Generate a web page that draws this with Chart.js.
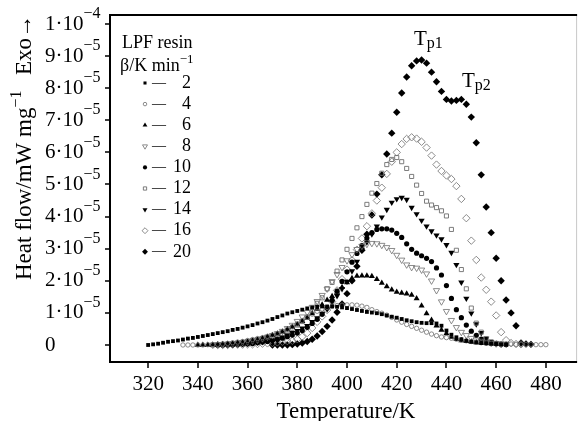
<!DOCTYPE html>
<html>
<head>
<meta charset="utf-8">
<script src="https://cdn.jsdelivr.net/npm/chart.js@4"></script>
<style>
  body { margin: 0; background: #fff; }
  #wrap { width: 582px; height: 421px; }
</style>
</head>
<body>
<div id="wrap"><canvas id="dscChart" width="582" height="421"></canvas></div>
<script>
// temperature grid (K), every series is sampled on it
const temps = [320, 322, 324, 326, 328, 330, 332, 334, 336, 338,
    340, 342, 344, 346, 348, 350, 352, 354, 356, 358,
    360, 362, 364, 366, 368, 370, 372, 374, 376, 378,
    380, 382, 384, 386, 388, 390, 392, 394, 396, 398,
    400, 402, 404, 406, 408, 410, 412, 414, 416, 418,
    420, 422, 424, 426, 428, 430, 432, 434, 436, 438,
    440, 442, 444, 446, 448, 450, 452, 454, 456, 458,
    460, 462, 464, 466, 468, 470, 472, 474, 476, 478, 480];

// heat flow in units of 1e-5 mW/mg, first value at the given start temperature
const b2Start = 320;
const b2 = [0.00, 0.02, 0.04, 0.07, 0.10, 0.12, 0.14, 0.17, 0.20, 0.22,
    0.25, 0.28, 0.31, 0.34, 0.37, 0.40, 0.43, 0.47, 0.50, 0.54,
    0.58, 0.62, 0.67, 0.71, 0.76, 0.81, 0.87, 0.92, 0.98, 1.02,
    1.06, 1.10, 1.14, 1.17, 1.19, 1.20, 1.20, 1.20, 1.19, 1.17,
    1.15, 1.12, 1.09, 1.06, 1.03, 1.01, 0.99, 0.96, 0.92, 0.88,
    0.85, 0.81, 0.77, 0.74, 0.71, 0.69, 0.68, 0.68, 0.67, 0.60,
    0.45, 0.32, 0.24, 0.18, 0.13, 0.10, 0.08, 0.06, 0.05, 0.04,
    0.03, 0.02, 0.01];

const b4Start = 334;
const b4 = [0.00, 0.00, 0.00, 0.00, 0.00, 0.01, 0.01, 0.02,
    0.03, 0.05, 0.07, 0.09, 0.11,
    0.14, 0.17, 0.20, 0.23, 0.27, 0.31, 0.36, 0.42, 0.49, 0.57,
    0.66, 0.76, 0.86, 0.96, 1.05, 1.12, 1.17, 1.21, 1.23, 1.24,
    1.25, 1.25, 1.24, 1.21, 1.17, 1.10, 1.04, 0.99, 0.93, 0.86,
    0.78, 0.71, 0.64, 0.58, 0.52, 0.46, 0.40, 0.34, 0.29, 0.25,
    0.23, 0.21, 0.18, 0.15, 0.13, 0.11, 0.09, 0.07, 0.06, 0.05,
    0.04, 0.04, 0.03, 0.03, 0.02, 0.02, 0.02, 0.02, 0.01, 0.01, 0.01];

const b6Start = 340;
const b6 = [0.00, 0.00, 0.00, 0.01, 0.01,
    0.02, 0.03, 0.04, 0.06, 0.08,
    0.10, 0.13, 0.16, 0.20, 0.25, 0.30, 0.35, 0.41, 0.48, 0.56,
    0.64, 0.74, 0.85, 0.98, 1.12, 1.25, 1.40, 1.52, 1.65, 1.80,
    1.95, 2.08, 2.15, 2.16, 2.16, 2.14, 2.05, 1.93, 1.82, 1.72,
    1.65, 1.62, 1.60, 1.56, 1.45, 1.22, 0.98, 0.78, 0.60, 0.47,
    0.36, 0.25, 0.18, 0.14, 0.12, 0.10, 0.08, 0.07, 0.06, 0.05, 0.04];

const b8Start = 346;
const b8 = [0.00, 0.01, 0.02, 0.03, 0.04, 0.06, 0.08,
    0.10, 0.13, 0.16, 0.20, 0.25, 0.30, 0.36, 0.43, 0.52, 0.62,
    0.74, 0.88, 1.02, 1.18, 1.36, 1.55, 1.75, 1.98, 2.20, 2.42,
    2.63, 2.82, 2.98, 3.08, 3.14, 3.17, 3.16, 3.11, 3.04, 2.95,
    2.80, 2.65, 2.50, 2.42, 2.40, 2.34, 2.22, 2.00, 1.70, 1.35,
    1.05, 0.77, 0.55, 0.40, 0.30, 0.21, 0.16, 0.12, 0.09, 0.06, 0.04, 0.02];

const b10Start = 348;
const b10 = [0.00, 0.00, 0.01, 0.01, 0.02, 0.03,
    0.04, 0.05, 0.07, 0.09, 0.11, 0.14, 0.17, 0.21, 0.26, 0.31,
    0.37, 0.45, 0.55, 0.67, 0.80, 0.96, 1.15, 1.40, 1.68, 1.98,
    2.28, 2.58, 2.85, 3.10, 3.33, 3.50, 3.60, 3.62, 3.62, 3.58,
    3.48, 3.35, 3.15, 2.98, 2.86, 2.78, 2.70, 2.60, 2.40, 2.18,
    1.85, 1.45, 1.10, 0.85, 0.62, 0.43, 0.30, 0.18, 0.10, 0.06, 0.04, 0.03, 0.02];

const b12Start = 346;
const b12 = [0.00, 0.01, 0.02, 0.03, 0.04, 0.06, 0.08,
    0.11, 0.14, 0.17, 0.20, 0.23, 0.27, 0.31, 0.36, 0.44, 0.52,
    0.62, 0.73, 0.87, 1.05, 1.30, 1.47, 1.75, 1.95, 2.30, 2.65,
    2.98, 3.32, 3.65, 4.00, 4.38, 4.73, 5.03, 5.35, 5.62, 5.78,
    5.84, 5.71, 5.50, 5.25, 4.98, 4.72, 4.48, 4.36, 4.28, 4.18,
    4.02, 3.60, 2.95, 2.35, 1.75, 1.15, 0.68, 0.40, 0.20, 0.10, 0.05, 0.03, 0.02];

const b14Start = 350;
const b14 = [0.00, 0.00, 0.01, 0.02, 0.03,
    0.04, 0.06, 0.08, 0.10, 0.13, 0.16, 0.20, 0.25, 0.31, 0.38,
    0.44, 0.52, 0.60, 0.72, 0.84, 0.98, 1.12, 1.34, 1.53, 1.75,
    1.98, 2.30, 2.60, 2.97, 3.20, 3.45, 3.70, 3.98, 4.22, 4.44,
    4.55, 4.59, 4.53, 4.28, 4.08, 3.88, 3.70, 3.55, 3.42, 3.30,
    3.12, 2.88, 2.50, 1.95, 1.45, 0.99, 0.65, 0.38, 0.20, 0.10, 0.05, 0.03, 0.02];

const b16Start = 348;
const b16 = [0.00, 0.00, 0.00, 0.01, 0.01, 0.01,
    0.02, 0.02, 0.03, 0.04, 0.05, 0.06, 0.08, 0.10, 0.12, 0.13,
    0.18, 0.26, 0.37, 0.53, 0.72, 0.89, 1.09, 1.35, 1.70, 2.05,
    2.35, 2.64, 2.97, 3.32, 3.70, 4.10, 4.50, 4.90, 5.33, 5.71,
    6.00, 6.26, 6.42, 6.47, 6.43, 6.33, 6.15, 5.90, 5.62, 5.42,
    5.28, 5.17, 4.95, 4.55, 3.95, 3.25, 2.65, 2.10, 1.72, 1.35,
    0.92, 0.40, 0.15, 0.06, 0.03, 0.02];

const b20Start = 370;
const b20 = [0.00, 0.00, 0.00, 0.00, 0.01,
    0.03, 0.06, 0.11, 0.18, 0.28, 0.42, 0.58, 0.78, 1.02, 1.28,
    1.60, 2.00, 2.45, 2.95, 3.45, 4.05, 4.70, 5.30, 5.95, 6.60,
    7.25, 7.85, 8.35, 8.70, 8.85, 8.88, 8.78, 8.50, 8.20, 7.90,
    7.65, 7.60, 7.62, 7.65, 7.50, 7.10, 6.30, 5.30, 4.30, 3.50,
    2.70, 2.00, 1.40, 1.00, 0.60, 0.06, 0.03, 0.02];

const rateLabels = ["2", "4", "6", "8", "10", "12", "14", "16", "20"];
const yTicks = [0, 1, 2, 3, 4, 5, 6, 7, 8, 9, 10];
const xTicks = [320, 340, 360, 380, 400, 420, 440, 460, 480];

const SERIF = '"Liberation Serif", "DejaVu Serif", serif';
const GREY = "#6e6e6e";

function toPoints(start, values) {
    const first = temps.indexOf(start);
    return values.map((v, i) => ({ x: temps[first + i], y: v }));
}

const styles = [
    { pointStyle: "rect", rotation: 0, radius: 2.7, fill: "#000", stroke: "#000", borderWidth: 0 },
    { pointStyle: "circle", rotation: 0, radius: 2.2, fill: "rgba(0,0,0,0)", stroke: GREY, borderWidth: 0.8 },
    { pointStyle: "triangle", rotation: 0, radius: 3.5, fill: "#000", stroke: "#000", borderWidth: 0 },
    { pointStyle: "triangle", rotation: 180, radius: 3.6, fill: "rgba(0,0,0,0)", stroke: GREY, borderWidth: 0.8 },
    { pointStyle: "circle", rotation: 0, radius: 2.6, fill: "#000", stroke: "#000", borderWidth: 0 },
    { pointStyle: "rect", rotation: 0, radius: 2.9, fill: "rgba(0,0,0,0)", stroke: GREY, borderWidth: 0.9 },
    { pointStyle: "triangle", rotation: 180, radius: 3.6, fill: "#000", stroke: "#000", borderWidth: 0 },
    { pointStyle: "rectRot", rotation: 0, radius: 3.7, fill: "rgba(0,0,0,0)", stroke: GREY, borderWidth: 0.8 },
    { pointStyle: "rectRot", rotation: 0, radius: 3.7, fill: "#000", stroke: "#000", borderWidth: 0 }
];

const seriesData = [
    toPoints(b2Start, b2), toPoints(b4Start, b4), toPoints(b6Start, b6),
    toPoints(b8Start, b8), toPoints(b10Start, b10), toPoints(b12Start, b12),
    toPoints(b14Start, b14), toPoints(b16Start, b16), toPoints(b20Start, b20)
];

const datasets = seriesData.map((pts, i) => ({
    label: rateLabels[i],
    data: pts,
    showLine: false,
    pointStyle: styles[i].pointStyle,
    rotation: styles[i].rotation,
    pointRadius: styles[i].radius,
    pointBackgroundColor: styles[i].fill,
    pointBorderColor: styles[i].stroke,
    pointBorderWidth: styles[i].borderWidth
}));

// text with a raised (sup) or lowered (sub) part
function drawPow(ctx, x, y, base, exp, baseSize, expSize, shift) {
    ctx.font = baseSize + "px " + SERIF;
    ctx.fillText(base, x, y);
    const w = ctx.measureText(base).width;
    ctx.font = expSize + "px " + SERIF;
    ctx.fillText(exp, x + w, y + shift);
    return w + ctx.measureText(exp).width;
}

const decorPlugin = {
    id: "decor",
    afterDraw(chart) {
        const ctx = chart.ctx;
        const area = chart.chartArea;
        const xs = chart.scales.x;
        const ys = chart.scales.y;
        ctx.save();

        // frame
        ctx.strokeStyle = "#c8c8c8";
        ctx.lineWidth = 1;
        ctx.beginPath();
        ctx.moveTo(area.right - 0.5, area.top);
        ctx.lineTo(area.right - 0.5, area.bottom);
        ctx.stroke();
        ctx.strokeStyle = "#000";
        ctx.lineWidth = 2;
        ctx.beginPath();
        ctx.moveTo(area.right, area.top);
        ctx.lineTo(area.left, area.top);
        ctx.lineTo(area.left, area.bottom);
        ctx.lineTo(area.right, area.bottom);
        ctx.stroke();

        // ticks
        ctx.lineWidth = 1.5;
        ctx.beginPath();
        xTicks.forEach(t => {
            const px = Math.round(xs.getPixelForValue(t));
            ctx.moveTo(px, area.bottom);
            ctx.lineTo(px, area.bottom + 6);
        });
        yTicks.forEach(t => {
            const py = Math.round(ys.getPixelForValue(t));
            ctx.moveTo(area.left, py);
            ctx.lineTo(area.left - 5, py);
        });
        ctx.stroke();

        ctx.fillStyle = "#000";
        // x tick labels
        ctx.font = "21px " + SERIF;
        ctx.textAlign = "center";
        ctx.textBaseline = "middle";
        xTicks.forEach(t => ctx.fillText(String(t), xs.getPixelForValue(t), 384));

        // y tick labels
        ctx.textAlign = "left";
        yTicks.forEach(t => {
            const py = ys.getPixelForValue(t);
            if (t === 0) {
                ctx.font = "21px " + SERIF;
                ctx.fillText("0", 45, py);
            } else if (t === 10) {
                drawPow(ctx, 45, py, "1\u00b710", "\u22124", 21, 16, -10);
            } else {
                drawPow(ctx, 45, py, t + "\u00b710", "\u22125", 21, 16, -10);
            }
        });

        // axis titles
        ctx.textBaseline = "alphabetic";
        ctx.textAlign = "center";
        ctx.font = "23px " + SERIF;
        ctx.fillText("Temperature/K", 346, 418);

        ctx.save();
        ctx.translate(31, 280);
        ctx.rotate(-Math.PI / 2);
        ctx.textAlign = "left";
        drawPow(ctx, 0, 0, "Heat flow/mW mg", "\u22121", 23, 16, -10);
        ctx.font = "23px " + SERIF;
        ctx.fillText("Exo\u2192", 205, 0);
        ctx.restore();

        // peak labels
        ctx.textAlign = "left";
        drawPow(ctx, 414, 45, "T", "p1", 21, 16, 3);
        drawPow(ctx, 462, 87, "T", "p2", 21, 16, 3);

        // legend
        ctx.font = "18px " + SERIF;
        ctx.fillText("LPF resin", 122, 48);
        drawPow(ctx, 120, 71, "\u03b2/K min", "\u22121", 18, 13, -8);
        ctx.textBaseline = "middle";
        rateLabels.forEach((lab, i) => {
            const ry = 83 + i * 21.1;
            const st = styles[i];
            ctx.fillStyle = st.fill;
            ctx.strokeStyle = st.stroke;
            ctx.lineWidth = st.borderWidth;
            Chart.helpers.drawPoint(ctx, {
                pointStyle: st.pointStyle,
                rotation: st.rotation,
                radius: st.radius * 0.8,
                borderWidth: st.borderWidth
            }, 145, ry);
            ctx.fillStyle = "#000";
            ctx.font = "14px " + SERIF;
            ctx.textAlign = "left";
            ctx.fillText("\u2014", 152, ry);
            ctx.font = "18px " + SERIF;
            ctx.textAlign = "right";
            ctx.fillText(lab, 191, ry);
        });

        ctx.restore();
    }
};

new Chart(document.getElementById("dscChart"), {
    type: "scatter",
    data: { datasets: datasets },
    options: {
        responsive: false,
        animation: false,
        layout: { padding: { left: 110, top: 15, right: 3, bottom: 59 } },
        plugins: { legend: { display: false }, tooltip: { enabled: false } },
        scales: {
            x: { type: "linear", display: false, min: 304.66, max: 492.56 },
            y: { type: "linear", display: false, min: -0.53, max: 10.28 }
        }
    },
    plugins: [decorPlugin]
});
</script>
</body>
</html>
